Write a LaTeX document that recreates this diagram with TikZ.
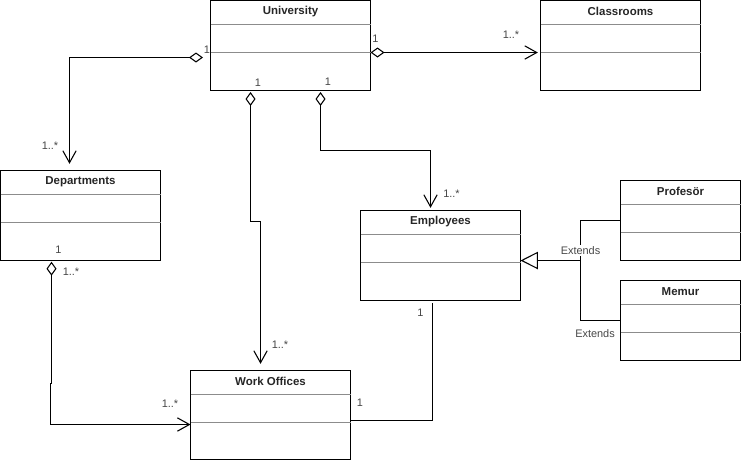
\documentclass[tikz,border=0pt]{standalone}
\usepackage{fontspec}
\setmainfont{Liberation Sans}
\usetikzlibrary{arrows.meta,calc}
\tikzset{
  cls/.style={draw=black, line width=0.8pt, inner sep=0pt, outer sep=0pt, fill=white},
  ttl/.style={font=\fontsize{8.6pt}{10pt}\selectfont\bfseries, inner sep=0pt, text=black!85},
  sep/.style={draw=black!45, line width=0.6pt},
  lbl/.style={font=\fontsize{8.2pt}{10pt}\selectfont, inner sep=0pt, text=black!72},
  conn/.style={draw=black, line width=0.8pt},
  agg/.style={conn, {Diamond[open,length=10.5pt,width=7.5pt,line width=0.8pt]}-{Straight Barb[length=9pt,width=10pt,line width=0.8pt]}},
  gen/.style={conn, -{Triangle[open,length=13pt,width=13pt,line width=0.8pt]}},
}
\newcommand\umlcls[6]{%
  \node[cls, minimum width=#4*0.75pt, minimum height=#5*0.75pt] (#1) at (#2+#4/2, #3+#5/2) {};
  \node[ttl] (#1T) at ($(#1.north)+(0,11)$) {#6};
  \draw[sep] ($(#1.north west)+(0,24)$) -- ($(#1.north east)+(0,24)$);
  \draw[sep] ($(#1.north west)+(0,52)$) -- ($(#1.north east)+(0,52)$);
}
\begin{document}
\begin{tikzpicture}[x=0.75pt, y=-0.75pt]
\useasboundingbox (0,0) rectangle (741,461);
\fill[white] (0,0) rectangle (741,461);

\umlcls{uni}{210.5}{0.5}{160}{90}{University}
\umlcls{room}{540.5}{0.5}{160}{90}{Classrooms}
\umlcls{dept}{0.5}{170.5}{160}{90}{Departments}
\umlcls{emp}{360.5}{210.5}{160}{90}{Employees}
\umlcls{prof}{620.5}{180.5}{120}{80}{Profesör}
\umlcls{mem}{620.5}{280.5}{120}{80}{Memur}
\umlcls{wo}{190.5}{370.5}{160}{89}{Work Offices}

% University -> Departments
\coordinate (uL) at ($(uni.west)+(-7.5,12)$);
\draw[agg, shorten >=5pt] (uL) -| ($(dept.north)+(-11,0)$);
% University -> Classrooms
\draw[agg, shorten >=2pt] ($(uni.east)+(0,7)$) -- ($(room.west)+(0,7)$);
% University -> Work Offices
\coordinate (u3) at ($(uni.south)+(-40,1.5)$);
\draw[agg, shorten >=5pt] (u3) -- ++(0,129.5) -- ++(10,0) -- ($(wo.north)+(-10,0)$);
% University -> Employees
\coordinate (u4) at ($(uni.south)+(30,1.5)$);
\draw[agg, shorten >=2pt] (u4) -- ++(0,58.5) -| ($(emp.north)+(-10,0)$);
% Departments -> Work Offices
\coordinate (d1) at ($(dept.south)+(-29,1.2)$);
\draw[agg] (d1) -- ++(0,122) -- ++(-1,0) |- ($(wo.west)+(0,9.5)$);
% Employees -- Work Offices
\coordinate (e1) at ($(emp.south)+(-8,2.5)$);
\draw[conn] (e1) |- ($(wo.east)+(0,5.5)$);
% Generalisation
\coordinate (jn) at ($(emp.east)+(60,5)$);
\draw[conn] (prof.west) -| (jn);
\draw[conn] (mem.west) -| (jn);
\draw[gen] (jn) -- ($(emp.east)+(0,5)$);

% labels
\node[lbl] (m1) at (207,50) {1};
\node[lbl] (m2) at (50,146) {1..*};
\node[lbl] (m3) at (375.5,39) {1};
\node[lbl] (m4) at (511,35) {1..*};
\node[lbl, fill=white, inner sep=1pt] (m5) at (258,83) {1};
\node[lbl] (m6) at (328,82) {1};
\node[lbl] (m7) at (451.5,194) {1..*};
\node[lbl] (m8) at (58.5,250) {1};
\node[lbl] (m9) at (71,272) {1..*};
\node[lbl] (m10) at (280,345) {1..*};
\node[lbl] (m11) at (170,404) {1..*};
\node[lbl] (m12) at (420.5,313) {1};
\node[lbl] (m13) at (360,403) {1};
\node[lbl, fill=white, inner sep=1pt] (x1) at (580.5,250.5) {Extends};
\node[lbl] (x2) at (595,334) {Extends};
\end{tikzpicture}
\end{document}
